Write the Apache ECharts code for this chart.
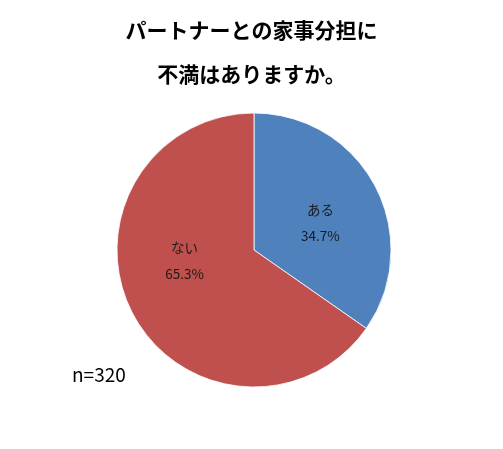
<!DOCTYPE html>
<html lang="ja">
<head>
    <meta charset="UTF-8">
    <title>家事分担</title>
    <script src="https://cdn.jsdelivr.net/npm/echarts@6/dist/echarts.min.js"></script>
    <style>
        html, body { margin: 0; padding: 0; background: #fff; }
        #chart1 { width: 503px; height: 449px; }
    </style>
</head>
<body>
<div id="chart1"></div>
<script>
    var categories = ['ある', 'ない'];
    var values = [34.7, 65.3];
    var colors = ['#4F81BD', '#C0504D'];
    var sampleText = 'n=320';

    var ctx1 = echarts.init(document.getElementById('chart1'));

    var pieData = categories.map(function (name, i) {
        return {
            name: name,
            value: values[i],
            itemStyle: { color: colors[i] },
            label: { offset: i === 0 ? [3, 6] : [-6, -22] }
        };
    });

    ctx1.setOption({
        animation: false,
        title: {
            text: 'パートナーとの家事分担に\n不満はありますか。',
            left: 'center',
            top: 3,
            textStyle: {
                fontFamily: 'Noto Sans CJK JP',
                fontSize: 21,
                fontWeight: 'bold',
                color: '#000',
                lineHeight: 44
            }
        },
        graphic: [{
            type: 'text',
            left: 72,
            top: 365,
            style: {
                text: sampleText,
                fontFamily: 'Noto Sans CJK JP',
                fontSize: 19,
                fill: '#000'
            }
        }],
        series: [{
            type: 'pie',
            center: [254, 250],
            radius: [0, 137],
            startAngle: 90,
            clockwise: true,
            itemStyle: { borderColor: '#fff', borderWidth: 0.8 },
            label: {
                show: true,
                position: 'inner',
                formatter: function (p) { return p.name + '\n\n' + p.value.toFixed(1) + '%'; },
                fontFamily: 'Noto Sans CJK JP',
                fontSize: 13.5,
                lineHeight: 13,
                color: '#1a1a1a'
            },
            labelLine: { show: false },
            emphasis: { disabled: true },
            data: pieData
        }]
    });
</script>
</body>
</html>
